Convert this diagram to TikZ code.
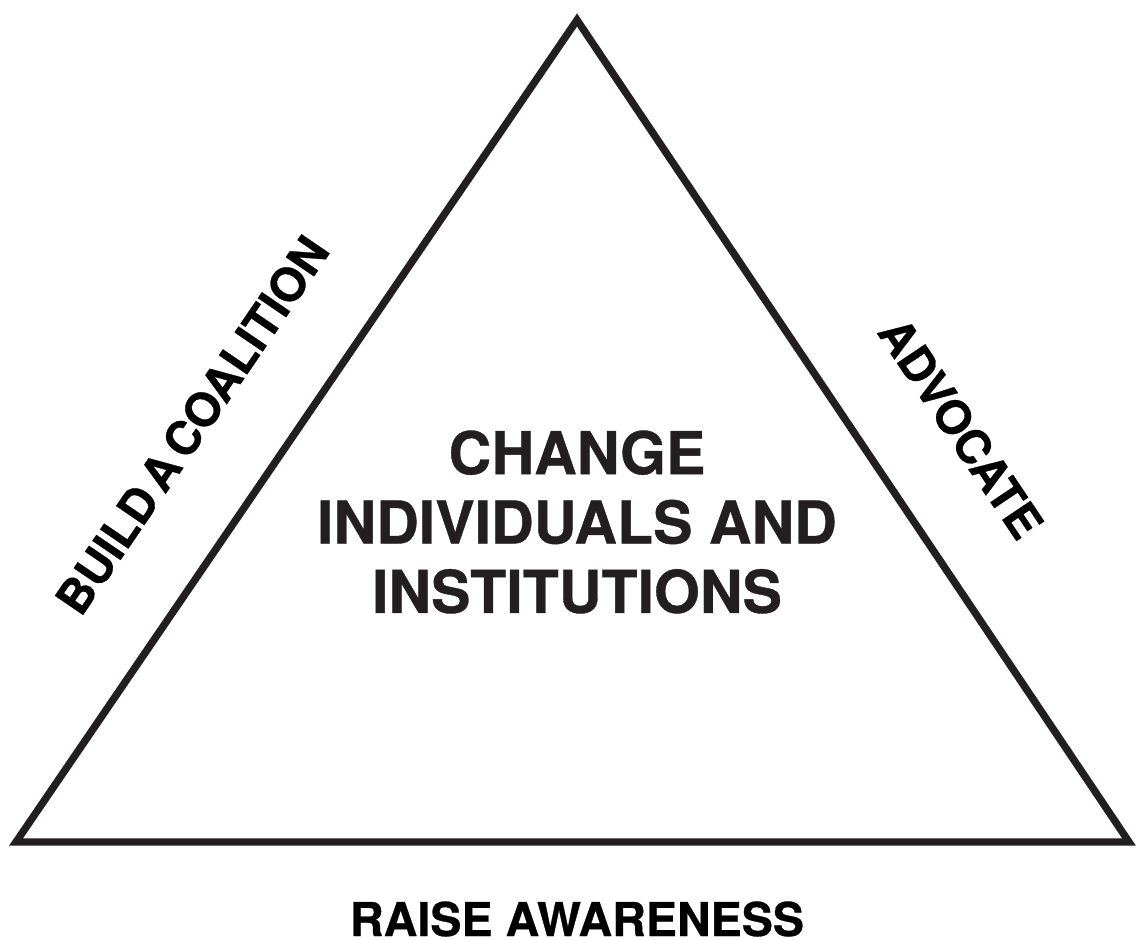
\documentclass[tikz,border=0pt]{standalone}
\usepackage{fontspec}
\setmainfont{TeX Gyre Heros}
\newfontfamily\heavyfont{TeX Gyre Heros}[BoldFeatures={FakeBold=0.6}]
\usepackage{tikz}
\usetikzlibrary{shapes.geometric, arrows}
\definecolor{tridark}{HTML}{231F20}

\begin{document}
\begin{tikzpicture}[x=0.75pt, y=-0.75pt]
        \tikzstyle{edge} = [line width=5.55pt, draw=tridark, line join=miter]
        \tikzstyle{side} = [inner sep=0pt, text=black, font=\heavyfont\bfseries\fontsize{35}{42}\selectfont]
        \tikzstyle{core} = [inner sep=0pt, text=tridark, align=center, font=\heavyfont\bfseries\fontsize{44.3}{52}\selectfont]
        \useasboundingbox (0, 0) rectangle (1137, 939);
		\coordinate (0) at (577, 20);
		\coordinate (1) at (1129, 842);
		\coordinate (2) at (16, 842);
		\node [side, rotate=55.7] (3) at (192, 425) {BUILD\hspace{0.14em}A\hspace{0.14em}COALITION};
		\node [side, rotate=-56.1] (4) at (961, 428) {ADVOCATE};
		\node [core] (5) at (577, 522) {CHANGE\\INDIVIDUALS AND\\INSTITUTIONS};
		\node [side] (6) at (577, 919) {RAISE AWARENESS};
		\draw[edge] (0) -- (1) -- (2) -- cycle;
    \end{tikzpicture}
\end{document}
